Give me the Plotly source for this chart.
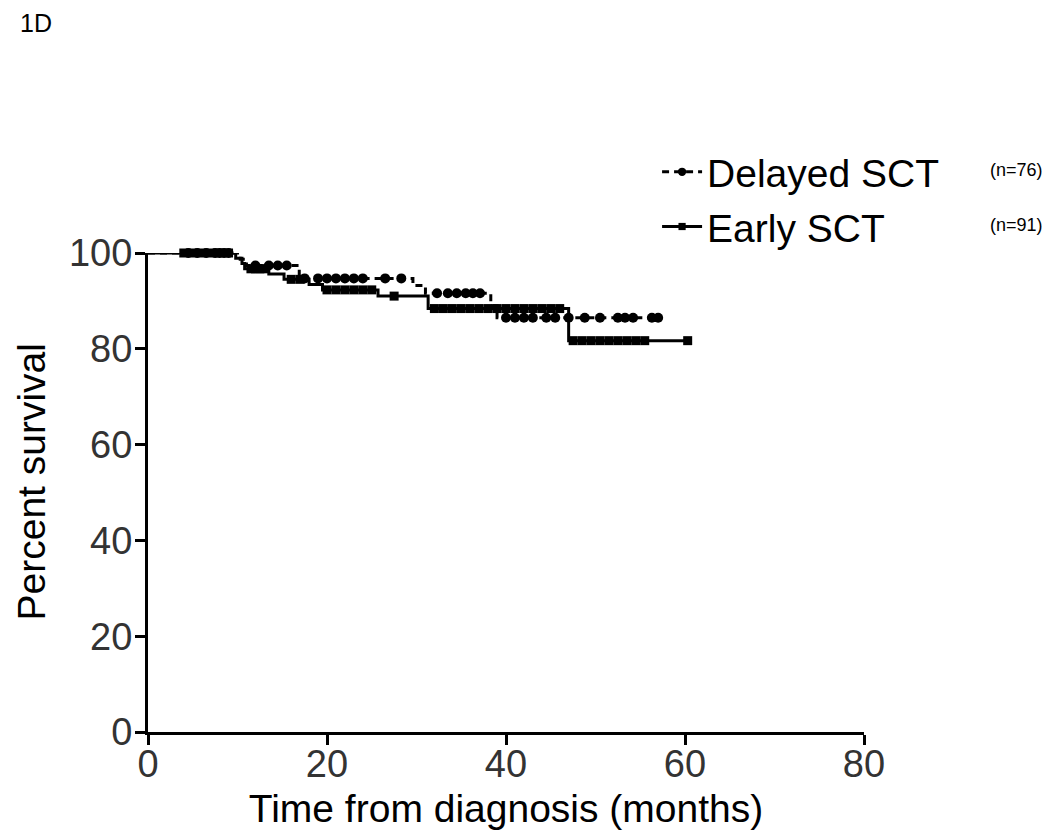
import plotly.graph_objects as go

# ---------------- data ----------------
group_names = ["Delayed SCT", "Early SCT"]
group_n = ["(n=76)", "(n=91)"]

# Kaplan-Meier step points (time in months, percent survival)
delayed_event_t = [0, 10.3, 11.0, 16.9, 29.6, 31.0, 38.3, 39.0]
delayed_event_s = [100, 98.7, 97.4, 94.7, 93.2, 91.6, 89.0, 86.5]
delayed_censor_t = [4.5, 5.5, 6.5, 7.5, 8.0, 8.5, 9.0,
                    12.0, 13.5, 14.5, 15.5,
                    17.5, 19.0, 20.0, 21.0, 22.0, 23.0, 24.0, 26.5, 28.3,
                    32.3, 33.5, 34.5, 35.5, 36.3, 37.1,
                    40.0, 41.0, 42.0, 43.0, 44.5, 45.5, 47.0,
                    48.8, 50.5, 52.5, 53.3, 54.2, 56.3, 57.0]

early_event_t = [0, 9.8, 10.5, 10.8, 13.5, 15.2, 18.0, 19.5, 25.7, 31.3, 47.0]
early_event_s = [100, 98.9, 97.8, 96.7, 95.6, 94.5, 93.4, 92.3, 91.0, 88.4, 81.7]
early_censor_t = [4.0, 5.0, 6.0, 7.0, 8.0, 9.0,
                  11.5, 12.0, 12.5, 13.0,
                  16.0, 17.0,
                  20.0, 21.0, 22.0, 23.0, 24.0, 25.0,
                  27.5,
                  32.0, 33.0, 34.0, 35.0, 36.0, 37.0, 38.0, 39.0, 40.0,
                  41.0, 42.0, 43.0, 44.0, 45.0, 46.0,
                  47.5, 48.5, 49.5, 50.5, 51.5, 52.5, 53.5, 54.5, 55.5,
                  60.3]

x_ticks = [0, 20, 40, 60, 80]
y_ticks = [0, 20, 40, 60, 80, 100]
x_title = "Time from diagnosis (months)"
y_title = "Percent survival"


def km_series(ev_t, ev_s, cens_t, censor_size):
    pts = [(t, s, 0) for t, s in zip(ev_t, ev_s)]
    for c in cens_t:
        s = ev_s[0]
        for t, v in zip(ev_t, ev_s):
            if t <= c:
                s = v
        pts.append((c, s, censor_size))
    pts.sort(key=lambda p: (p[0], -p[1]))
    return [p[0] for p in pts], [p[1] for p in pts], [p[2] for p in pts]


FONT = "Liberation Sans, Arial, sans-serif"
fig = go.Figure()

dx, dy, ds = km_series(delayed_event_t, delayed_event_s, delayed_censor_t, 10)
fig.add_trace(go.Scatter(
    x=dx, y=dy, mode="lines+markers", name=group_names[0],
    legendgroup="d",
    line=dict(color="black", width=3, shape="hv", dash="7px,5px"),
    marker=dict(symbol="circle", size=ds, color="black", opacity=1,
                line=dict(width=0, color="black")),
    cliponaxis=False,
))

ex, ey, es = km_series(early_event_t, early_event_s, early_censor_t, 9)
fig.add_trace(go.Scatter(
    x=ex, y=ey, mode="lines+markers", name=group_names[1],
    legendgroup="e",
    line=dict(color="black", width=3, shape="hv"),
    marker=dict(symbol="square", size=es, color="black", opacity=1,
                line=dict(width=0, color="black")),
    cliponaxis=False,
))

axis_common = dict(
    showgrid=False, zeroline=False, showline=True, linecolor="black",
    linewidth=3, ticks="outside", ticklen=10, tickwidth=3, tickcolor="black",
    tickfont=dict(family=FONT, size=38, color="#333333"),
    automargin=False,
)

fig.update_layout(
    width=1042, height=829,
    paper_bgcolor="white", plot_bgcolor="white",
    margin=dict(l=140, r=186, t=245, b=105),
    font=dict(family=FONT, color="black"),
    xaxis=dict(range=[0, 80], tickvals=x_ticks, ticklabelstandoff=-14,
               title=dict(text=x_title,
                          font=dict(family=FONT, size=39, color="black"),
                          standoff=12),
               **axis_common),
    yaxis=dict(range=[0, 100], tickvals=y_ticks, ticklabelstandoff=-5,
               **axis_common),
    legend=dict(x=0.711, y=1.236, xanchor="left", yanchor="top",
                font=dict(family=FONT, size=39, color="black"),
                traceorder="grouped", tracegroupgap=1,
                bgcolor="rgba(0,0,0,0)", itemwidth=40),
    showlegend=True,
)

# y-axis title placed as rotated text, kept fully inside the page
fig.add_annotation(text=y_title, xref="paper", yref="paper",
                   x=-0.1955, y=0.522, xanchor="left", yanchor="middle",
                   textangle=-90, showarrow=False,
                   font=dict(family=FONT, size=39, color="black"))

fig.add_annotation(text=group_n[0], xref="paper", yref="paper",
                   x=1.2528, y=1.173, xanchor="right", yanchor="middle",
                   showarrow=False, font=dict(family=FONT, size=18, color="black"))
fig.add_annotation(text=group_n[1], xref="paper", yref="paper",
                   x=1.2528, y=1.058, xanchor="right", yanchor="middle",
                   showarrow=False, font=dict(family=FONT, size=18, color="black"))
fig.add_annotation(text="1D", xref="paper", yref="paper",
                   x=-0.18, y=1.511, xanchor="left", yanchor="top",
                   borderpad=0,
                   showarrow=False, font=dict(family=FONT, size=25, color="black"))

fig.write_html("out.html")
